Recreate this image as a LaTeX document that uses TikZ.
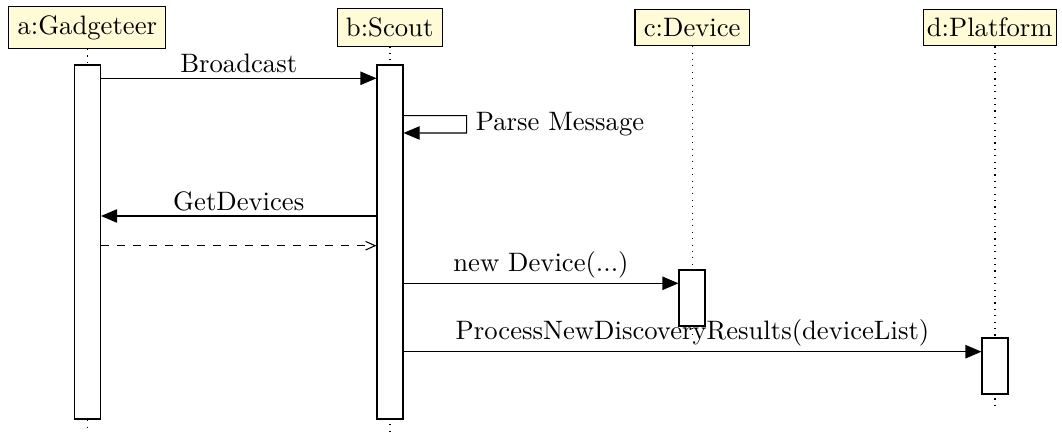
\documentclass[tikz,border=0pt]{standalone}
\usetikzlibrary{arrows.meta}
\definecolor{instfill}{RGB}{255,251,214}
\begin{document}
\begin{tikzpicture}[x=0.375pt,y=-0.375pt,
  inst/.style={draw, fill=instfill, line width=0.4pt},
  thread/.style={draw, fill=white, line width=0.4pt, minimum width=26*0.375pt, inner sep=0pt},
  life/.style={dotted, line width=0.4pt},
  call/.style={-{Triangle[length=6pt,width=5pt]}, line width=0.4pt},
  reply/.style={dashed, -{Straight Barb[length=3.6pt,width=3.2pt]}, line width=0.4pt},
  msg/.style={midway, above, inner sep=1.75pt}]
\useasboundingbox (0,0) rectangle (1062,432);

% instances
\node[inst] (a) at (87.3,27.5) {a:Gadgeteer};
\node[inst] (b) at (389.7,27.5) {b:Scout};
\node[inst] (c) at (692.2,27.5) {c:Device};
\node[inst, inner xsep=1.4pt] (d) at (989.7,27.5) {d:Platform};

% lifelines
\coordinate (aend) at (87.7,428);
\coordinate (bend) at (390,431);
\coordinate (cend) at (692.3,340);
\coordinate (dend) at (995,406);
\draw[life] (a.south -| aend) -- (aend);
\draw[life] (b.south -| bend) -- (bend);
\draw[life] (c.south -| cend) -- (cend);
\draw[life] (d.south -| dend) -- (dend);

% activations
\node[thread, minimum height=354*0.375pt] (aact) at (87.5,242) {};
\node[thread, minimum height=354*0.375pt] (bact) at (390,242) {};
\node[thread, minimum height=56*0.375pt] (cact) at (692,298) {};
\node[thread, minimum height=56*0.375pt] (dact) at (995,366) {};

% message rows
\coordinate (m1) at (0,78.3);
\coordinate (m2) at (0,115.7);
\coordinate (m2b) at (0,133);
\coordinate (m3) at (0,216);
\coordinate (m4) at (0,245.7);
\coordinate (m5) at (0,283.3);
\coordinate (m6) at (0,351.7);

% messages
\draw[call] (aact.east |- m1) -- node[msg]{Broadcast} (bact.west |- m1);
\draw[call] (bact.east |- m2) -- ++(63,0) -- node[right]{Parse Message} ++(0,17.3) -- (bact.east |- m2b);
\draw[call] (bact.west |- m3) -- node[msg]{GetDevices} (aact.east |- m3);
\draw[reply] (aact.east |- m4) -- (bact.west |- m4);
\draw[call] (bact.east |- m5) -- node[msg]{new Device(...)} (cact.west |- m5);
\draw[call] (bact.east |- m6) -- node[msg]{ProcessNewDiscoveryResults(deviceList)} (dact.west |- m6);
\end{tikzpicture}
\end{document}
